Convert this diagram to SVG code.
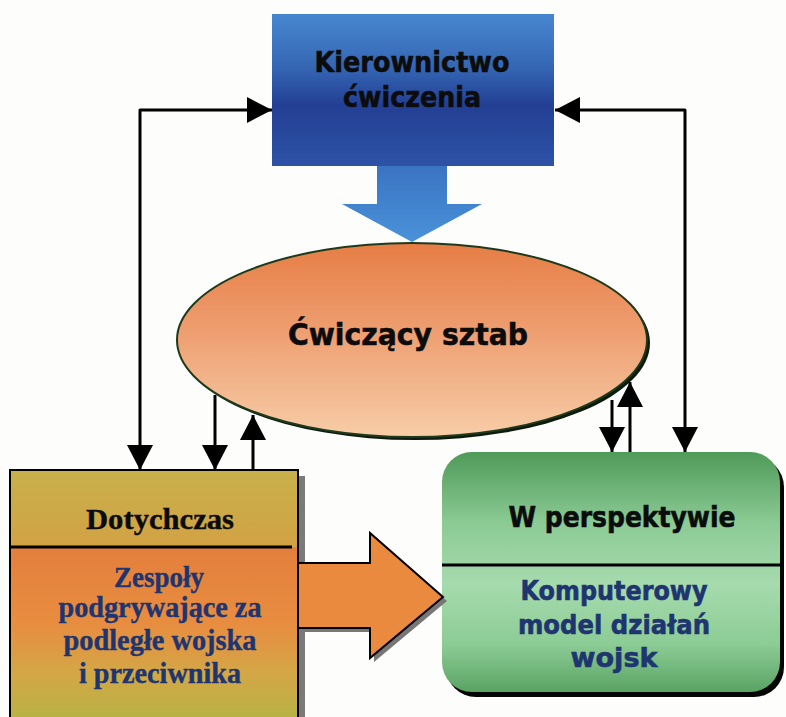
<svg xmlns="http://www.w3.org/2000/svg" width="786" height="717" viewBox="0 0 786 717">
  <defs>
    <linearGradient id="gBlueBox" x1="0" y1="0" x2="0" y2="1">
      <stop offset="0" stop-color="#4787cf"/>
      <stop offset="0.35" stop-color="#3566b4"/>
      <stop offset="0.6" stop-color="#233f94"/>
      <stop offset="1" stop-color="#2d52a6"/>
    </linearGradient>
    <linearGradient id="gBlueArrow" x1="0" y1="0" x2="0" y2="1">
      <stop offset="0" stop-color="#3a74c2"/>
      <stop offset="1" stop-color="#4a92da"/>
    </linearGradient>
    <linearGradient id="gEllipse" x1="0" y1="0" x2="0" y2="1">
      <stop offset="0" stop-color="#e67d45"/>
      <stop offset="0.45" stop-color="#ee9e70"/>
      <stop offset="1" stop-color="#f7cda8"/>
    </linearGradient>
    <linearGradient id="gTopBand" x1="0" y1="0" x2="0" y2="1">
      <stop offset="0" stop-color="#c8b04a"/>
      <stop offset="1" stop-color="#d2a244"/>
    </linearGradient>
    <linearGradient id="gLowBand" gradientUnits="userSpaceOnUse" x1="0" y1="547" x2="0" y2="717">
      <stop offset="0" stop-color="#e37f3c"/>
      <stop offset="0.45" stop-color="#e88d40"/>
      <stop offset="0.75" stop-color="#d3a746"/>
      <stop offset="1" stop-color="#b9b244"/>
    </linearGradient>
    <linearGradient id="gGreen" x1="0" y1="0" x2="0" y2="1">
      <stop offset="0" stop-color="#4f9a59"/>
      <stop offset="0.3" stop-color="#8ccb95"/>
      <stop offset="0.55" stop-color="#a6dbad"/>
      <stop offset="0.8" stop-color="#8ccc95"/>
      <stop offset="1" stop-color="#5aa363"/>
    </linearGradient>
    <marker id="head" markerUnits="userSpaceOnUse" markerWidth="26" markerHeight="26" refX="25" refY="13" orient="auto-start-reverse">
      <path d="M0,0 L25,13 L0,26 Z" fill="#000"/>
    </marker>
    <style>
      .conn { fill: none; stroke: #000; stroke-width: 3; stroke-linejoin: round; }
      .sans { font-family: "DejaVu Sans", Verdana, "Liberation Sans", sans-serif; font-weight: bold; text-anchor: middle; stroke-width: 0.6; }
      .serif { font-family: "Liberation Serif", "Times New Roman", serif; font-weight: bold; text-anchor: middle; stroke-width: 0.4; }
      .ink { fill: #0c0c0c; stroke: #0c0c0c; }
      .navy { fill: #1e3570; stroke: #1e3570; }
    </style>
  </defs>

  <rect width="786" height="717" fill="#fdfdfb"/>

  <!-- Exercise direction: box with the broad arrow pointing down -->
  <g id="kierownictwo">
    <rect x="272" y="14" width="282" height="152" fill="url(#gBlueBox)"/>
    <polygon points="377,166 447,166 447,204 482,204 412,242 342,204 377,204" fill="url(#gBlueArrow)"/>
    <text class="sans ink" x="412" y="72" font-size="29" textLength="195" lengthAdjust="spacingAndGlyphs">Kierownictwo</text>
    <text class="sans ink" x="412" y="107" font-size="29" textLength="138" lengthAdjust="spacingAndGlyphs">ćwiczenia</text>
  </g>

  <!-- Training staff -->
  <g id="sztab">
    <ellipse cx="415" cy="343" rx="235" ry="97" fill="#0d1a0d"/>
    <ellipse cx="412" cy="340" rx="235" ry="97" fill="url(#gEllipse)" stroke="#1d3a1d" stroke-width="2"/>
    <text class="sans ink" x="408" y="345" font-size="31" textLength="240" lengthAdjust="spacingAndGlyphs">Ćwiczący sztab</text>
  </g>

  <!-- Current approach -->
  <g id="dotychczas">
    <rect x="298" y="476" width="7" height="245" fill="#7a7a7a"/>
    <rect x="10" y="470" width="288" height="250" fill="url(#gLowBand)" stroke="#000" stroke-width="2"/>
    <rect x="11" y="471" width="286" height="76" fill="url(#gTopBand)"/>
    <line x1="10" y1="547" x2="292" y2="547" stroke="#000" stroke-width="3"/>
    <text class="serif ink" x="160" y="529" font-size="30" textLength="148" lengthAdjust="spacingAndGlyphs">Dotychczas</text>
    <text class="serif navy" x="159" y="587" font-size="30" textLength="90" lengthAdjust="spacingAndGlyphs">Zespoły</text>
    <text class="serif navy" x="160" y="617" font-size="30" textLength="203" lengthAdjust="spacingAndGlyphs">podgrywające za</text>
    <text class="serif navy" x="160" y="650" font-size="30" textLength="193" lengthAdjust="spacingAndGlyphs">podległe wojska</text>
    <text class="serif navy" x="160" y="683" font-size="30" textLength="162" lengthAdjust="spacingAndGlyphs">i przeciwnika</text>
  </g>

  <!-- Future approach -->
  <g id="perspektywa">
    <rect x="446" y="457" width="338" height="240" rx="30" fill="#050505"/>
    <rect x="442" y="452" width="338" height="240" rx="30" fill="url(#gGreen)"/>
    <line x1="442" y1="565" x2="780" y2="565" stroke="#000" stroke-width="3"/>
    <text class="sans ink" x="622" y="527" font-size="28" textLength="227" lengthAdjust="spacingAndGlyphs">W perspektywie</text>
    <text class="sans navy" x="614" y="600" font-size="26" textLength="187" lengthAdjust="spacingAndGlyphs">Komputerowy</text>
    <text class="sans navy" x="614" y="634" font-size="26" textLength="192" lengthAdjust="spacingAndGlyphs">model działań</text>
    <text class="sans navy" x="614" y="667" font-size="26" textLength="87" lengthAdjust="spacingAndGlyphs">wojsk</text>
  </g>

  <!-- Transition arrow from current to future -->
  <g id="przejscie">
    <polygon points="302,567 374,567 374,537 447,601 374,662 374,632 302,632" fill="#777"/>
    <polygon points="298,563 370,563 370,533 443,597 370,658 370,628 298,628" fill="#e98a3e" stroke="#000" stroke-width="2" stroke-linejoin="miter"/>
  </g>

  <!-- Connectors -->
  <g id="connectors">
    <path class="conn" d="M140,470 L140,110 L272,110" marker-start="url(#head)" marker-end="url(#head)"/>
    <path class="conn" d="M685,452 L685,110 L555,110" marker-start="url(#head)" marker-end="url(#head)"/>
    <path class="conn" d="M215,395 L215,470" marker-end="url(#head)"/>
    <path class="conn" d="M253,470 L253,415" marker-end="url(#head)"/>
    <path class="conn" d="M612,400 L612,452" marker-end="url(#head)"/>
    <path class="conn" d="M630,452 L630,382" marker-end="url(#head)"/>
  </g>
</svg>
